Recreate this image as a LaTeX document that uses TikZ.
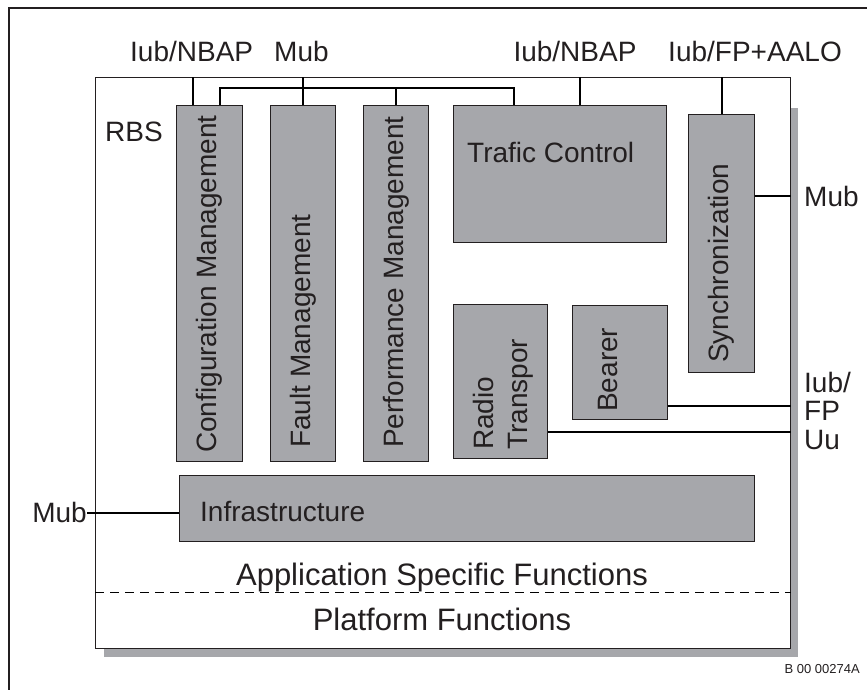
\documentclass[tikz,border=0pt]{standalone}
\usepackage{fontspec}
\setmainfont{Liberation Sans}
\usepackage{tikz}
\usetikzlibrary{positioning, calc}

\definecolor{blkgray}{RGB}{166,167,171}
\definecolor{inkgray}{RGB}{35,31,32}

\tikzset{
  blk/.style={draw=inkgray, fill=blkgray, line width=1.1pt, inner sep=0pt, anchor=north west},
  lbl/.style={text=inkgray, inner sep=0pt, font=\fontsize{28}{34}\selectfont},
  vlbl/.style={lbl, rotate=90},
  wire/.style={black, line width=2pt},
}

\begin{document}
\begin{tikzpicture}[x=1pt, y=-1pt]
  \useasboundingbox (0,0) rectangle (867,690);
  % frame, shadow and the RBS box
  \draw[line width=1.4pt, inkgray] (9,690) -- (9,8) -- (867,8);
  \fill[blkgray] (104,108) rectangle (798,657);
  \node[draw=inkgray, fill=white, line width=1.2pt, minimum width=695, minimum height=571, inner sep=0pt, anchor=north west] (rbs) at (95,77) {};
  \node[lbl, anchor=base west] (rbsname) at (105,142) {RBS};

  % function blocks
  \node[blk, minimum width=66, minimum height=356] (cfg) at (176,105) {};
  \node[blk, minimum width=65, minimum height=356] (flt) at (270,105) {};
  \node[blk, minimum width=65, minimum height=356] (prf) at (363,105) {};
  \node[blk, minimum width=213, minimum height=137] (trc) at (453,105) {};
  \node[blk, minimum width=66, minimum height=258] (syn) at (688,114) {};
  \node[blk, minimum width=94, minimum height=154] (rtp) at (453,304) {};
  \node[blk, minimum width=95, minimum height=114] (brr) at (572,305) {};
  \node[blk, minimum width=575, minimum height=66] (inf) at (179,475) {};

  \node[vlbl, anchor=west] at ([yshift=9]cfg.south) {Configuration Management};
  \node[vlbl, anchor=west] at ([yshift=14]flt.south) {Fault Management};
  \node[vlbl, anchor=west] at ([yshift=14]prf.south) {Performance Management};
  \node[vlbl, anchor=west] at ([yshift=10]syn.south) {Synchronization};
  \node[vlbl, align=left, anchor=north west] at (473,450) {Radio\\Transpor};
  \node[vlbl, anchor=base west] at (617,412) {Bearer};
  \node[lbl, anchor=base west] at (467,162) {Trafic Control};
  \node[lbl, anchor=base west] at (200,521) {Infrastructure};

  % interfaces
  \node[lbl, anchor=base west] (nbapA) at (130,62) {Iub/NBAP};
  \node[lbl, anchor=base west] (mubT) at (274,62) {Mub};
  \node[lbl, anchor=base] (nbapB) at (575,62) {Iub/NBAP};
  \node[lbl, anchor=base] (fpaalo) at (755,62) {Iub/FP+AALO};
  \node[lbl, anchor=base west] (mubR) at (804,206) {Mub};
  \node[lbl, anchor=base west] (iub) at (804,392) {Iub/};
  \node[lbl, anchor=base west] (fp) at (804,420) {FP};
  \node[lbl, anchor=base west] (uu) at (804,449) {Uu};
  \node[lbl, anchor=base east] (mubL) at (87,522) {Mub};

  \coordinate (tA) at ([xshift=17]cfg.north west);
  \coordinate (tB) at ([xshift=127]trc.north west);
  \coordinate (busA) at ([xshift=44]cfg.north west);
  \coordinate (busB) at ([xshift=61]trc.north west);
  \draw[wire] (tA) -- (tA |- rbs.north);
  \draw[wire] (flt.north) -- (flt.north |- rbs.north);
  \draw[wire] (busA) -- ++(0,-17) -| (busB);
  \draw[wire] (prf.north) -- ++(0,-17);
  \draw[wire] (tB) -- (tB |- rbs.north);
  \draw[wire] (syn.north) -- (syn.north |- rbs.north);

  \coordinate (sR) at ([yshift=-82]syn.north east);
  \coordinate (bR) at ([yshift=14]brr.south east);
  \coordinate (rR) at ([yshift=27]rtp.south east);
  \coordinate (iL) at ([yshift=-4]inf.west);
  \draw[wire] (sR) -- (sR -| rbs.east);
  \draw[wire] (bR) -- (bR -| rbs.east);
  \draw[wire] (rR) -- (rR -| rbs.east);
  \draw[wire] (iL) -- (iL -| mubL.east);

  % layers
  \draw[line width=1pt, dash pattern=on 9pt off 6pt] ([yshift=57]rbs.south west) -- ([yshift=57]rbs.south east);
  \node[lbl, font=\fontsize{31}{36}\selectfont, anchor=base] (asf) at (442,585) {Application Specific Functions};
  \node[lbl, font=\fontsize{31}{36}\selectfont, anchor=base] (pfn) at (442,630) {Platform Functions};
  \node[lbl, font=\fontsize{13}{15}\selectfont, anchor=base east] (code) at (860,673) {B 00 00274A};
\end{tikzpicture}
\end{document}
